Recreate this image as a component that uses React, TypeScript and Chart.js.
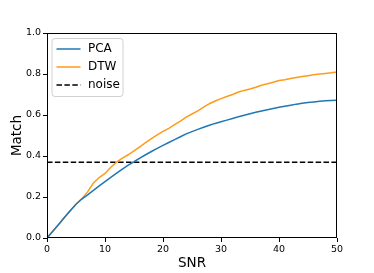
import React, { useEffect, useRef } from 'react';
import { Chart, registerables } from 'chart.js';

Chart.register(...registerables);

// ---- data ----
const snr = [
  0, 1, 2, 3, 4, 5, 6, 7, 8, 9, 10, 11, 12, 13, 14, 15, 16, 17, 18, 19, 20, 21, 22, 23, 24, 25,
  26, 27, 28, 29, 30, 31, 32, 33, 34, 35, 36, 37, 38, 39, 40, 41, 42, 43, 44, 45, 46, 47, 48, 49, 50,
];
const pca = [
  0, 0.033, 0.066, 0.1, 0.133, 0.165, 0.19, 0.21, 0.232, 0.254, 0.275, 0.296, 0.316, 0.336, 0.355,
  0.372, 0.39, 0.406, 0.422, 0.437, 0.452, 0.466, 0.48, 0.494, 0.508, 0.519, 0.53, 0.54, 0.55, 0.559,
  0.567, 0.575, 0.583, 0.591, 0.599, 0.606, 0.613, 0.62, 0.626, 0.632, 0.638, 0.643, 0.648, 0.653,
  0.657, 0.661, 0.664, 0.667, 0.669, 0.671, 0.672,
];
const dtw = [
  0, 0.033, 0.066, 0.1, 0.133, 0.165, 0.192, 0.225, 0.268, 0.295, 0.315, 0.345, 0.37, 0.39, 0.406,
  0.425, 0.445, 0.465, 0.485, 0.503, 0.52, 0.535, 0.553, 0.57, 0.59, 0.605, 0.62, 0.638, 0.655, 0.668,
  0.68, 0.69, 0.7, 0.712, 0.72, 0.727, 0.735, 0.745, 0.752, 0.76, 0.768, 0.772, 0.778, 0.783, 0.788,
  0.792, 0.796, 0.8, 0.803, 0.806, 0.81,
];
const noiseLevel = 0.37;
const noiseX = [0, 50];
const seriesLabels = ['PCA', 'DTW', 'noise'];
const xTicks = [0, 10, 20, 30, 40, 50];
const yTicks = [0, 0.2, 0.4, 0.6, 0.8, 1.0];
const xTitle = 'SNR';
const yTitle = 'Match';

const FONT = "'DejaVu Sans', sans-serif";
const W = 374;
const H = 273;

const framePlugin = {
  id: 'frame',
  afterDatasetsDraw(chart: any) {
    const { ctx, chartArea } = chart;
    ctx.save();
    ctx.strokeStyle = '#000';
    ctx.lineWidth = 1;
    ctx.strokeRect(
      Math.round(chartArea.left) + 0.5,
      Math.round(chartArea.top) + 0.5,
      Math.round(chartArea.right - chartArea.left) - 1,
      Math.round(chartArea.bottom - chartArea.top) - 1
    );
    ctx.restore();
  },
};

const legendPlugin = {
  id: 'mplLegend',
  afterDraw(chart: any) {
    const { ctx, chartArea } = chart;
    const x0 = chartArea.left + 5;
    const y0 = chartArea.top + 5.5;
    const w = 71;
    const h = 58;
    ctx.save();
    ctx.beginPath();
    if (ctx.roundRect) ctx.roundRect(x0, y0, w, h, 3);
    else ctx.rect(x0, y0, w, h);
    ctx.fillStyle = 'rgba(255,255,255,0.8)';
    ctx.fill();
    ctx.strokeStyle = '#d0d0d0';
    ctx.lineWidth = 1;
    ctx.stroke();
    chart.data.datasets.forEach((ds: any, i: number) => {
      const cy = y0 + 10.5 + i * 18;
      ctx.beginPath();
      ctx.strokeStyle = ds.borderColor;
      ctx.lineWidth = ds.borderWidth;
      ctx.setLineDash(ds.borderDash || []);
      ctx.moveTo(x0 + 4.5, cy);
      ctx.lineTo(x0 + 28.5, cy);
      ctx.stroke();
      ctx.setLineDash([]);
      ctx.fillStyle = '#000';
      ctx.font = `12px ${FONT}`;
      ctx.textAlign = 'left';
      ctx.textBaseline = 'middle';
      ctx.fillText(ds.label, x0 + 36, cy);
    });
    ctx.restore();
  },
};

export default function App() {
  const ref = useRef<HTMLCanvasElement | null>(null);

  useEffect(() => {
    if (!ref.current) return;
    const chart = new Chart(ref.current, {
      type: 'line',
      data: {
        datasets: [
          {
            label: seriesLabels[0],
            data: snr.map((x, i) => ({ x, y: pca[i] })),
            borderColor: '#1f77b4',
            borderWidth: 1.5,
            pointRadius: 0,
            tension: 0,
          },
          {
            label: seriesLabels[1],
            data: snr.map((x, i) => ({ x, y: dtw[i] })),
            borderColor: '#ff9a1a',
            borderWidth: 1.5,
            pointRadius: 0,
            tension: 0,
          },
          {
            label: seriesLabels[2],
            data: noiseX.map((x) => ({ x, y: noiseLevel })),
            borderColor: '#000000',
            borderWidth: 1.5,
            borderDash: [5.5, 2.4],
            pointRadius: 0,
          },
        ],
      },
      options: {
        animation: false,
        responsive: false,
        layout: { padding: { top: 33, right: 37, left: 0, bottom: 0 } },
        plugins: {
          legend: { display: false },
          tooltip: { enabled: false },
        },
        scales: {
          x: {
            type: 'linear',
            min: 0,
            max: 50,
            afterBuildTicks: (s: any) => {
              s.ticks = xTicks.map((v) => ({ value: v }));
            },
            afterFit: (s: any) => {
              s.height = 35;
            },
            border: { display: false },
            grid: { drawOnChartArea: false, drawTicks: true, tickLength: 4, color: '#000', lineWidth: 1 },
            ticks: {
              color: '#000',
              font: { family: FONT, size: 9.5 },
              padding: 2,
              maxRotation: 0,
              callback: (v: any) => String(v),
            },
            title: {
              display: true,
              text: xTitle,
              color: '#000',
              font: { family: FONT, size: 13.5 },
              padding: { top: 0, bottom: 1.5 },
            },
          },
          y: {
            type: 'linear',
            min: 0,
            max: 1,
            afterBuildTicks: (s: any) => {
              s.ticks = yTicks.map((v) => ({ value: v }));
            },
            afterFit: (s: any) => {
              s.width = 47;
            },
            border: { display: false },
            grid: { drawOnChartArea: false, drawTicks: true, tickLength: 4, color: '#000', lineWidth: 1 },
            ticks: {
              color: '#000',
              font: { family: FONT, size: 9.5 },
              padding: 2,
              callback: (v: any) => Number(v).toFixed(1),
            },
            title: {
              display: true,
              text: yTitle,
              color: '#000',
              font: { family: FONT, size: 13.5 },
              padding: { top: 9, bottom: 0 },
            },
          },
        },
      },
      plugins: [framePlugin, legendPlugin],
    } as any);
    return () => chart.destroy();
  }, []);

  return (
    <div style={{ position: 'fixed', left: 0, top: 0, width: W, height: H, background: '#fff' }}>
      <canvas ref={ref} width={W} height={H} style={{ display: 'block', width: W, height: H }} />
    </div>
  );
}
